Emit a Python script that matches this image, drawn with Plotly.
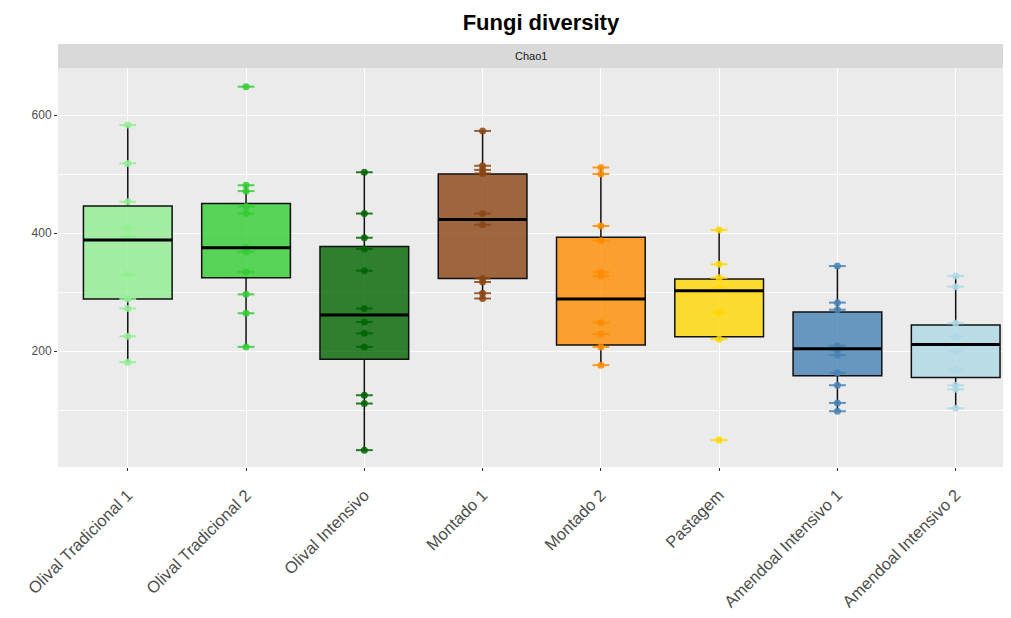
import plotly.graph_objects as go

categories = ["Olival Tradicional 1", "Olival Tradicional 2", "Olival Intensivo", "Montado 1",
              "Montado 2", "Pastagem", "Amendoal Intensivo 1", "Amendoal Intensivo 2"]

point_values = [
    [583, 518, 453, 408, 394, 330, 288, 272, 225, 181],
    [648, 481, 471, 445, 433, 375, 368, 334, 296, 264, 207],
    [503, 433, 392, 373, 336, 272, 249, 230, 207, 125, 111, 32],
    [573, 514, 507, 501, 433, 414, 323, 317, 298, 289],
    [511, 500, 412, 387, 334, 327, 248, 229, 207, 176],
    [405, 347, 324, 307, 265, 220, 49],
    [344, 282, 270, 209, 202, 193, 163, 142, 112, 98],
    [327, 309, 247, 224, 199, 168, 142, 135, 103],
]

q1_values = [288, 324, 186, 323, 210, 224, 158, 155]
median_values = [388, 375, 261, 423, 288, 302, 204, 211]
q3_values = [446, 450, 377, 500, 393, 322, 266, 244]
lower_whisker = [181, 207, 32, 289, 176, 220, 98, 103]
upper_whisker = [583, 481, 503, 573, 511, 405, 344, 327]

colors = ["#90ee90", "#32cd32", "#006400", "#8b4513", "#ff8c00", "#ffd700", "#4682b4", "#add8e6"]


def rgba(hex_color, a):
    h = hex_color.lstrip("#")
    r, g, b = int(h[0:2], 16), int(h[2:4], 16), int(h[4:6], 16)
    return f"rgba({r},{g},{b},{a})"


BOX_W = 0.75
fig = go.Figure()

# points (under the boxes)
for i, (vals, col) in enumerate(zip(point_values, colors)):
    xs = [i] * len(vals)
    fig.add_trace(go.Scatter(x=xs, y=vals, mode="markers", showlegend=False, hoverinfo="y",
                             marker=dict(symbol="line-ew", size=12, line=dict(color=rgba(col, 0.85), width=2))))
    fig.add_trace(go.Scatter(x=xs, y=vals, mode="markers", showlegend=False, hoverinfo="skip",
                             marker=dict(symbol="circle", size=7, color=rgba(col, 0.85), line=dict(width=0))))

# boxes
for i in range(len(categories)):
    fig.add_trace(go.Box(x=[i], q1=[q1_values[i]], median=[median_values[i]], q3=[q3_values[i]],
                         lowerfence=[lower_whisker[i]], upperfence=[upper_whisker[i]],
                         width=BOX_W, whiskerwidth=0, boxpoints=False, showlegend=False,
                         fillcolor=rgba(colors[i], 0.8), line=dict(color="#111111", width=1.5)))
    # thick median line
    fig.add_trace(go.Scatter(x=[i - BOX_W / 2, i + BOX_W / 2], y=[median_values[i]] * 2,
                             mode="lines", showlegend=False, hoverinfo="skip",
                             line=dict(color="black", width=3)))

# facet strip
fig.add_shape(type="rect", xref="paper", yref="paper", x0=0, x1=1, y0=1, y1=1 + 24 / 399,
              fillcolor="#d9d9d9", line=dict(width=0), layer="below")
fig.add_annotation(text="Chao1", xref="paper", yref="paper", x=0.5, y=1 + 12 / 399,
                   showarrow=False, font=dict(size=11, color="#1a1a1a"), yanchor="middle")

fig.update_layout(
    width=1011, height=618,
    margin=dict(l=58, r=8, t=68, b=151),
    paper_bgcolor="white", plot_bgcolor="#ebebeb",
    font=dict(family="Liberation Sans, Arial, sans-serif", color="#4d4d4d"),
    title=dict(text="<b>Fungi diversity</b>", xref="paper", x=0.511, xanchor="center",
               y=1 - 22 / 618, yanchor="middle",
               font=dict(size=22, color="black")),
    showlegend=False,
)
fig.update_xaxes(range=[-0.59, 7.4], tickmode="array", tickvals=list(range(len(categories))),
                 ticktext=categories, tickangle=-45, tickfont=dict(size=16.5, color="#4d4d4d"),
                 ticklabelstandoff=8,
                 showgrid=True, gridcolor="white", gridwidth=1.2, zeroline=False,
                 ticks="outside", ticklen=3, tickcolor="#333333", showline=False)
fig.update_yaxes(range=[3.4, 679.7], tickmode="array", tickvals=[200, 400, 600],
                 tickfont=dict(size=12, color="#4d4d4d"),
                 showgrid=True, gridcolor="white", gridwidth=1.2, zeroline=False,
                 ticks="outside", ticklen=3, tickcolor="#333333",
                 minor=dict(tickvals=[100, 300, 500], showgrid=True, gridcolor="white", gridwidth=0.6))

fig.write_html("out.html", config={"displayModeBar": False},
               post_script="document.body.style.margin='0px';")
